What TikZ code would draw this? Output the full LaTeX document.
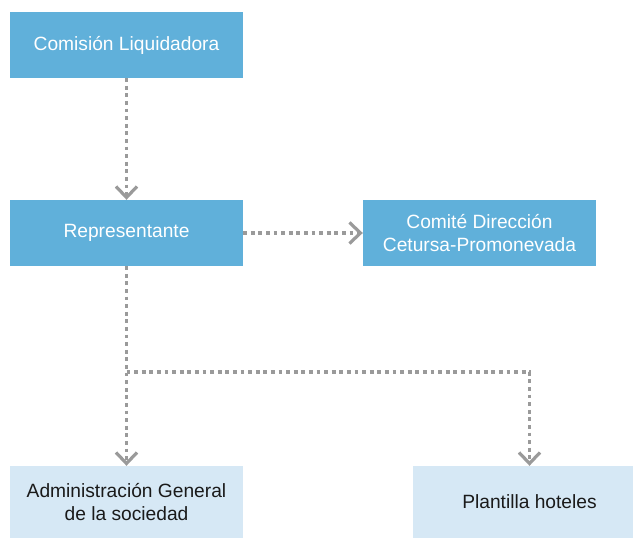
\documentclass[tikz,border=0pt]{standalone}
\usepackage{fontspec}
\setmainfont{Liberation Sans}
\usetikzlibrary{arrows.meta}
\definecolor{boxblue}{HTML}{60B0DA}
\definecolor{boxlight}{HTML}{D6E8F5}
\definecolor{linegray}{HTML}{9A9A9A}
\definecolor{textdark}{HTML}{1A1A1A}
\begin{document}
\begin{tikzpicture}[x=1bp,y=-1bp,
  boxfont/.style={font=\fontsize{19.2bp}{23bp}\selectfont},
  darkbox/.style={boxfont, fill=boxblue, text=white, minimum width=233bp, minimum height=66bp, inner sep=0pt, align=center},
  lightbox/.style={boxfont, fill=boxlight, text=textdark, minimum width=233bp, minimum height=72bp, inner sep=0pt, align=center},
  conn/.style={draw=linegray, line width=3.2bp, dash pattern=on 3.8bp off 3.8bp,
    -{Straight Barb[length=11bp, width=21bp, line width=3.2bp]}}]
\useasboundingbox (0,0) rectangle (633,538);
\clip (0,0) rectangle (633,538);
\node[darkbox] (com) at (126.5,45) {Comisión Liquidadora};
\node[darkbox] (rep) at (126.5,233) {Representante};
\node[darkbox] (cte) at (479.5,233) {Comité Dirección\\Cetursa-Promonevada};
\node[lightbox] (adm) at (126.5,502) {Administración General\\de la sociedad};
\node[lightbox] (pla) at (529.5,502) {Plantilla hoteles};
\coordinate (br) at (126.5,372);
\draw[conn] (com.south) -- (rep.north);
\draw[conn] (rep.east) -- (cte.west);
\draw[conn] (rep.south) -- (adm.north);
\draw[conn] (br) -| (pla.north);
\end{tikzpicture}
\end{document}
